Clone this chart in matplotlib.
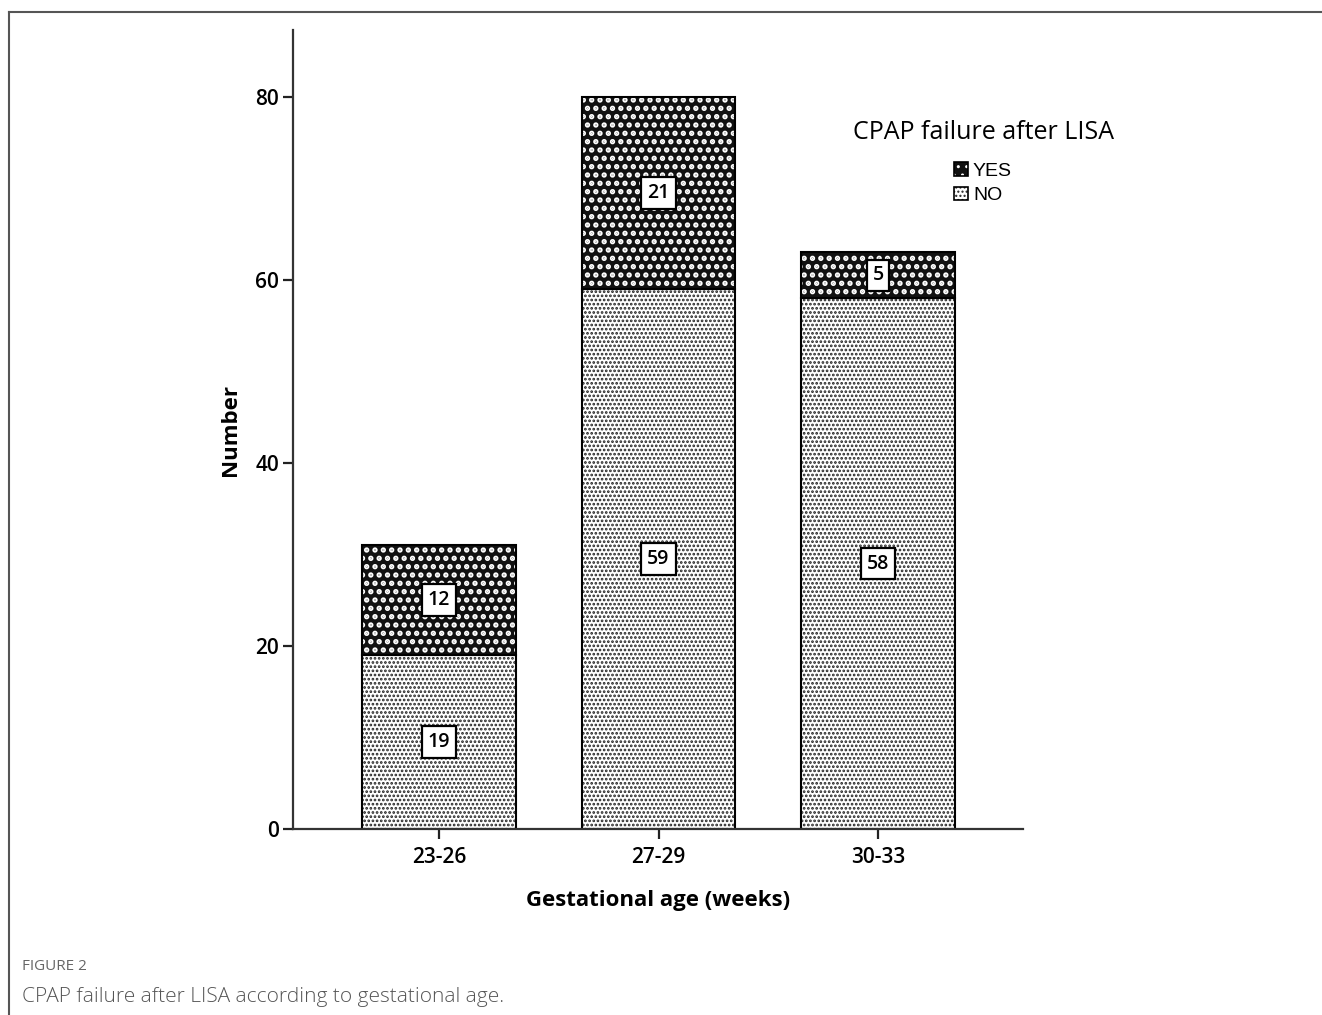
import matplotlib.pyplot as plt
from matplotlib.patches import Patch
from matplotlib.lines import Line2D

# data
grupos = ['23-26', '27-29', '30-33']
nao = [19, 59, 58]
sim = [12, 21, 5]

plt.rcParams['font.family'] = ['Open Sans', 'DejaVu Sans']

fig = plt.figure(figsize=(13.22, 10.15), dpi=100)
ax = fig.add_axes([0.2216, 0.1833, 0.5522, 0.787])

x = range(len(grupos))
largura = 0.70

# NO: pontos escuros sobre fundo branco
with plt.rc_context({'hatch.linewidth': 1.3}):
    ax.bar(x, nao, largura, color='white', edgecolor='#222222', hatch='....', linewidth=0)
    h_nao = Patch(facecolor='white', edgecolor='#222222', hatch='....', linewidth=0)
# YES: pontos brancos sobre fundo preto
with plt.rc_context({'hatch.linewidth': 2.6}):
    ax.bar(x, sim, largura, bottom=nao, color='#111111', edgecolor='white', hatch='..', linewidth=0)
    h_sim = Patch(facecolor='#111111', edgecolor='white', hatch='..', linewidth=0)
# contornos
ax.bar(x, nao, largura, fill=False, edgecolor='black', linewidth=1.5)
ax.bar(x, sim, largura, bottom=nao, fill=False, edgecolor='black', linewidth=1.5)

caixa = dict(boxstyle='square,pad=0.3', facecolor='white', edgecolor='black', linewidth=1.6)
for i in x:
    ax.text(i, nao[i] / 2, str(nao[i]), ha='center', va='center', fontsize=14,
            fontweight='semibold', bbox=caixa)
    ax.text(i, nao[i] + sim[i] / 2, str(sim[i]), ha='center', va='center', fontsize=14,
            fontweight='semibold', bbox=caixa)

ax.set_xlim(-0.665, 2.66)
ax.set_ylim(0, 87.3)
ax.set_yticks([0, 20, 40, 60, 80])
ax.set_xticks(list(x))
ax.set_xticklabels(grupos)
ax.tick_params(axis='both', labelsize=15, length=7, width=1.6, color='#222222')
ax.tick_params(axis='x', pad=6)
ax.tick_params(axis='y', pad=3)
for rot in ax.get_xticklabels() + ax.get_yticklabels():
    rot.set_fontweight('semibold')

for lado in ['top', 'right']:
    ax.spines[lado].set_visible(False)
for lado in ['left', 'bottom']:
    ax.spines[lado].set_linewidth(1.6)
    ax.spines[lado].set_color('#333333')

ax.set_ylabel('Number', fontsize=16, fontweight='bold', labelpad=10)
ax.set_xlabel('Gestational age (weeks)', fontsize=16, fontweight='bold', labelpad=16)

# legenda
borda = Patch(fill=False, edgecolor='black', linewidth=1.2)
fig.text(0.744, 0.869, 'CPAP failure after LISA', fontsize=18, fontweight='medium',
         ha='center', va='center')
fig.legend([(h_sim, borda), (h_nao, borda)], ['YES', 'NO'], loc='upper left',
           bbox_to_anchor=(0.722, 0.840), frameon=False,
           prop={'family': 'Liberation Sans', 'size': 14},
           handlelength=0.7, handleheight=0.7, handletextpad=0.25,
           labelspacing=0.35, borderpad=0, borderaxespad=0)

# moldura da figura
fig.add_artist(Line2D([0.0068, 1.0], [0.988, 0.988], color='#555555', linewidth=1.5))
fig.add_artist(Line2D([0.0068, 0.0068], [0.0, 0.988], color='#555555', linewidth=1.5))

fig.text(0.0166, 0.044, 'FIGURE 2', fontsize=11, color='#666666')
fig.text(0.0166, 0.013, 'CPAP failure after LISA according to gestational age.',
         fontsize=15, color='#555555', fontweight='light')

fig.savefig('out.png', dpi=100)
